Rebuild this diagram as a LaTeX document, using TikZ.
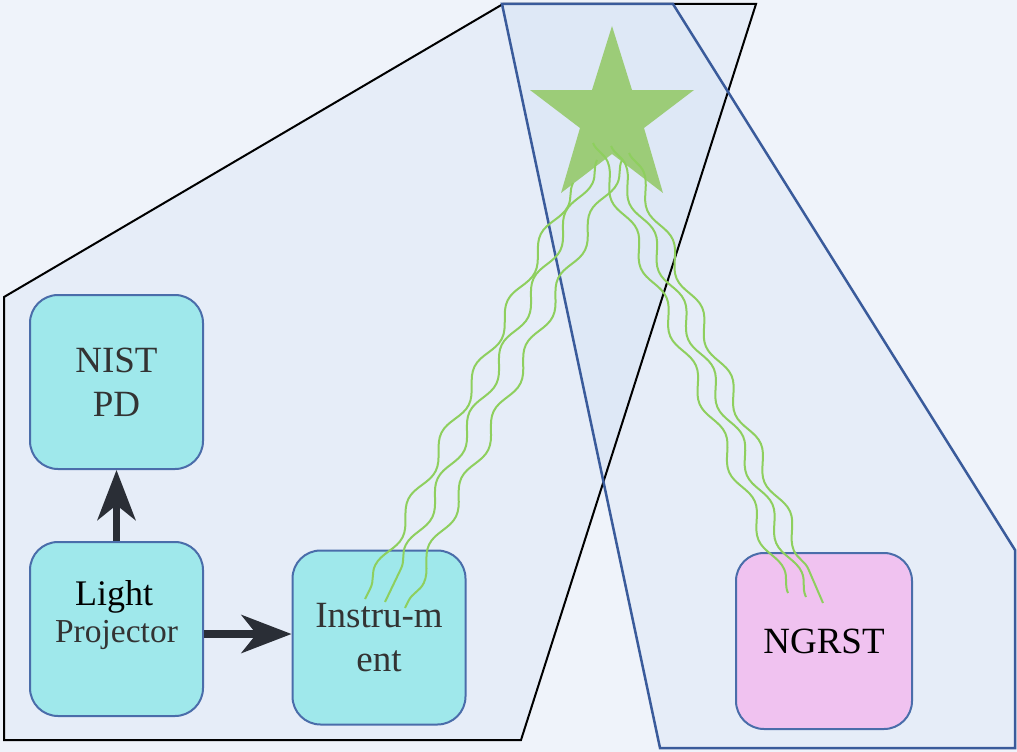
\documentclass[tikz,border=0pt]{standalone}
\usepackage{fontspec}
\setmainfont{Liberation Serif}
\usetikzlibrary{decorations.pathmorphing,arrows.meta}
\definecolor{bg}{HTML}{EFF3FA}
\definecolor{polyfill}{HTML}{C2D5F2}
\definecolor{bluepoly}{HTML}{3A5B9B}
\definecolor{starg}{HTML}{9CCC78}
\definecolor{waveg}{HTML}{8ECF5E}
\definecolor{boxfill}{HTML}{9FE8EB}
\definecolor{boxline}{HTML}{4A6DAA}
\definecolor{pinkfill}{HTML}{F0C2F0}
\definecolor{arrowc}{HTML}{2A2E36}
\definecolor{txt}{HTML}{333333}
\tikzset{
  regionfill/.style={fill=polyfill, fill opacity=0.2},
  boxnode/.style={rounded corners=28pt, draw=boxline, line width=2pt, fill=boxfill,
    minimum width=173pt, minimum height=174pt, align=center, inner sep=0pt,
    font=\fontsize{37}{44}\selectfont, text=txt},
  pinkbox/.style={boxnode, fill=pinkfill, minimum width=176pt, minimum height=176pt, text=black},
  arr/.style={draw=arrowc, line width=7.5pt, -{Stealth[length=50pt,width=38pt,inset=15pt]}},
  wave/.style={draw=waveg, line width=2pt, decorate,
    decoration={snake, segment length=74pt, amplitude=6pt}},
  labeltext/.style={inner sep=0pt, anchor=base},
}
\begin{document}
\begin{tikzpicture}[x=1pt,y=-1pt]
\useasboundingbox (0,0) rectangle (1017,752);
\fill[bg] (0,0) rectangle (1017,752);
% regions
\path[regionfill] (4,297) -- (503,4) -- (756,4) -- (521,740) -- (4,740) -- cycle;
\path[regionfill] (502,4) -- (673,4) -- (1015,550) -- (1015,748) -- (660,748) -- cycle;
\draw[black, line width=2pt, line join=miter] (4,297) -- (503,4) -- (756,4) -- (521,740) -- (4,740) -- cycle;
\draw[bluepoly, line width=2.5pt, line join=miter] (502,4) -- (673,4) -- (1015,550) -- (1015,748) -- (660,748) -- cycle;
% star
\fill[starg] (612,26) -- (632,90) -- (694,90) -- (644,128) -- (663,193) -- (612,154)
  -- (561,193) -- (580,128) -- (530,90) -- (592,90) -- cycle;
% boxes
\node[boxnode] (nist) at (116.5,382) {NIST\\PD};
\node[boxnode] (light) at (116.5,629) {};
\node[labeltext, font=\fontsize{36}{40}\selectfont, text=black] (lighttxt) at (114,605) {Light};
\node[labeltext, font=\fontsize{33.5}{40}\selectfont, text=txt] (projtxt) at (116.5,642) {Projector};
\node[boxnode] (instr) at (379,637.5) {Instru-m\\ent};
\node[pinkbox] (ngrst) at (824,641) {NGRST};
% wave coordinates
\coordinate (sl1) at (573,183);
\coordinate (sl2) at (597,160);
\coordinate (sl3) at (622,160);
\coordinate (el1) at (365,599);
\coordinate (el2) at (385,602);
\coordinate (el3) at (405,608);
\coordinate (sr1) at (593,143);
\coordinate (sr2) at (611,146);
\coordinate (sr3) at (629,153);
\coordinate (er1) at (788,593);
\coordinate (er2) at (806,597);
\coordinate (er3) at (823,603);
\draw[wave] (sl1) -- (el1);
\draw[wave] (sl2) -- (el2);
\draw[wave] (sl3) -- (el3);
\draw[wave] (sr1) -- (er1);
\draw[wave] (sr2) -- (er2);
\draw[wave] (sr3) -- (er3);
% arrows
\coordinate (ah) at (0,634);
\draw[arr] (light.north) -- (nist.south);
\draw[arr] (light.east |- ah) -- (instr.west |- ah);
\end{tikzpicture}
\end{document}
